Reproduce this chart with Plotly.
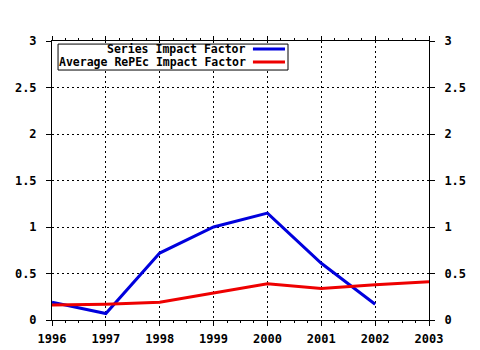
import plotly.graph_objects as go

years = [1996, 1997, 1998, 1999, 2000, 2001, 2002, 2003]
series_if = [0.19, 0.07, 0.72, 1.00, 1.15, 0.61, 0.17, None]
avg_repec_if = [0.16, 0.17, 0.19, 0.29, 0.39, 0.34, 0.38, 0.41]
names = ["Series Impact Factor", "Average RePEc Impact Factor"]
colors = ["#0000dd", "#ee0000"]

TICKFONT = dict(family="DejaVu Sans Mono", size=12, color="black", weight="bold")

fig = go.Figure()
fig.add_trace(go.Scatter(x=years, y=series_if, mode="lines", line=dict(color=colors[0], width=3),
                         name=names[0], showlegend=False, connectgaps=False))
fig.add_trace(go.Scatter(x=years, y=avg_repec_if, mode="lines", line=dict(color=colors[1], width=3),
                         name=names[1], showlegend=False))
# invisible trace for mirrored axes
fig.add_trace(go.Scatter(x=[years[0]], y=[0], xaxis="x2", yaxis="y2", mode="markers",
                         marker=dict(opacity=0), showlegend=False, hoverinfo="skip"))

GRID = dict(showgrid=True, gridcolor="black", griddash="2px,3px", gridwidth=1)
MINOR = dict(dtick=0.25, ticks="outside", ticklen=2, tickcolor="black", showgrid=False)

fig.update_layout(
    width=480, height=350,
    margin=dict(l=52, r=51, t=41, b=30),
    paper_bgcolor="white", plot_bgcolor="white",
    xaxis=dict(range=[1996, 2003], dtick=1, tick0=1996, automargin=False,
               showline=True, linecolor="black", linewidth=1, zeroline=False,
               ticks="outside", ticklen=5, tickcolor="black", tickfont=TICKFONT,
               ticklabelstandoff=3, minor=MINOR, **GRID),
    yaxis=dict(range=[0, 3], dtick=0.5, automargin=False,
               showline=True, linecolor="black", linewidth=1, zeroline=False,
               ticks="outside", ticklen=5, tickcolor="black", tickfont=TICKFONT,
               ticklabelstandoff=7, **GRID),
    xaxis2=dict(range=[1996, 2003], dtick=1, overlaying="x", side="top", showticklabels=False,
                automargin=False, showgrid=False, showline=True, linecolor="black",
                ticks="outside", ticklen=4, tickcolor="black", zeroline=False, minor=MINOR),
    yaxis2=dict(range=[0, 3], dtick=0.5, overlaying="y", side="right", showgrid=False,
                automargin=False, showline=True, linecolor="black", ticks="outside", ticklen=5,
                tickcolor="black", tickfont=TICKFONT, ticklabelstandoff=7, zeroline=False),
)

# manual legend (text right-aligned, line sample to the right)
fig.add_shape(type="rect", xref="paper", yref="paper", x0=0.016, x1=0.626, y0=0.896, y1=0.989,
              line=dict(color="black", width=1), fillcolor="white", layer="above")
rows_y = [0.971, 0.925]
for nm, col, ry in zip(names, colors, rows_y):
    fig.add_annotation(xref="paper", yref="paper", x=0.519, y=ry, text="<b>" + nm + "</b>",
                       showarrow=False, xanchor="right", yanchor="middle",
                       font=dict(family="DejaVu Sans Mono", size=11.5, color="black"))
    fig.add_shape(type="line", xref="paper", yref="paper", x0=0.533, x1=0.618, y0=ry, y1=ry,
                  line=dict(color=col, width=3), layer="above")

fig.write_html("out.html")
